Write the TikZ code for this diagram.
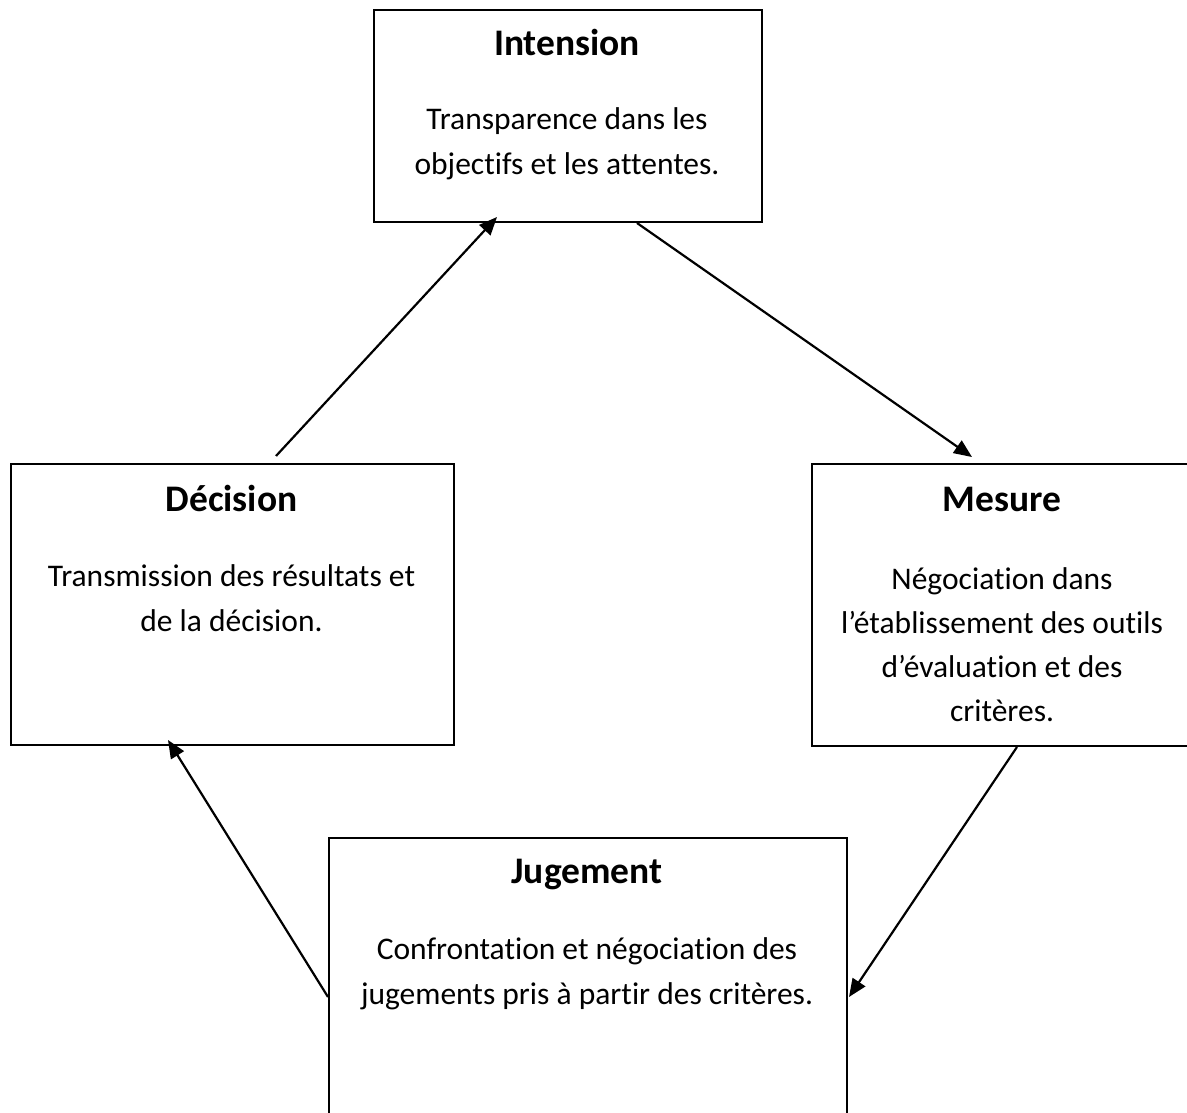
\documentclass[tikz,border=0pt]{standalone}
\usepackage{fontspec}
\setmainfont{Carlito}[Ligatures={NoCommon,NoContextual}]
\usetikzlibrary{arrows.meta}
\begin{document}
\begin{tikzpicture}[x=1pt,y=-1pt,
  box/.style={draw=black, line width=2pt, rectangle, inner sep=0pt, anchor=north west},
  title/.style={anchor=base, inner sep=0pt, font=\fontsize{37.5}{45}\selectfont\bfseries},
  body/.style={anchor=base, inner sep=0pt, align=center, font=\fontsize{31.5}{45}\selectfont},
  flow/.style={line width=2.2pt, -{Triangle[length=18pt,width=15pt]}}]
\clip (0,0) rectangle (1187,1113);
% the four stages of the cycle
\node[box, minimum width=388pt, minimum height=212pt] (int) at (373,9) {};
\node[box, minimum width=443pt, minimum height=281pt] (dec) at (10,463) {};
\node[box, minimum width=382pt, minimum height=282pt] (mes) at (811,463) {};
\node[box, minimum width=518pt, minimum height=300pt] (jug) at (328,837) {};
% headings
\node[title] (intT) at (567,56) {Intension};
\node[title] (decT) at (231.5,511) {Décision};
\node[title] (mesT) at (1002,511) {Mesure};
\node[title] (jugT) at (587,883) {Jugement};
% descriptions (anchored on the baseline of their last line)
\node[body] (intB) at (567,175) {Transparence dans les\\objectifs et les attentes.};
\node[body] (decB) at (231.5,631) {Transmission des résultats et\\de la décision.};
\node[body, font=\fontsize{31.5}{44}\selectfont] (mesB) at (1002,721) {Négociation dans\\l’établissement des outils\\d’évaluation et des\\critères.};
\node[body] (jugB) at (587,1004) {Confrontation et négociation des\\jugements pris à partir des critères.};
% cycle arrows
\draw[flow] ([xshift=266pt,yshift=7pt]dec.north west) -- ([xshift=124pt,yshift=6pt]int.south west);
\draw[flow] ([xshift=264pt]int.south west) -- ([xshift=161pt,yshift=6pt]mes.north west);
\draw[flow] ([xshift=206pt]mes.south west) -- ([xshift=1pt,yshift=-160pt]jug.north east);
\draw[flow] ([yshift=-160pt]jug.north west) -- ([xshift=158pt,yshift=6pt]dec.south west);
\end{tikzpicture}
\end{document}
